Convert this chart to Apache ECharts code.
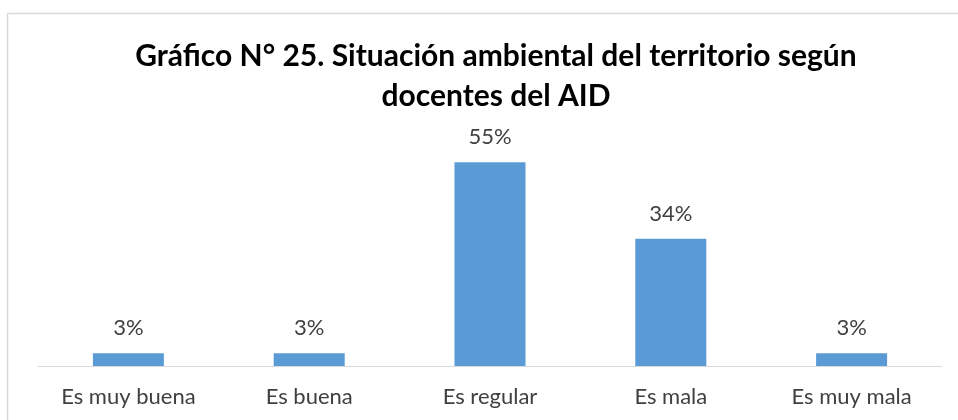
<!DOCTYPE html>
<html><head><meta charset="utf-8">
<script src="https://cdn.jsdelivr.net/npm/echarts@6/dist/echarts.min.js"></script>
<style>html,body{margin:0;padding:0;background:#fff}#c{width:958px;height:420px}</style>
</head><body><div id="c"></div>
<script>
const categories = ["Es muy buena", "Es buena", "Es regular", "Es mala", "Es muy mala"];
const values = [3.45, 3.45, 55.17, 34.48, 3.45];
const titleText = "Gráfico N° 25. Situación ambiental del territorio según\ndocentes del AID";

const chart = echarts.init(document.getElementById('c'), null, {renderer: 'canvas'});
chart.setOption({
  animation: false,
  backgroundColor: '#ffffff',
  graphic: [{
    type: 'rect', left: 5, top: 11,
    shape: {width: 1000, height: 500},
    style: {fill: 'none', stroke: '#D9D9D9', lineWidth: 1.5}
  }],
  title: {
    text: titleText,
    left: 491, textAlign: 'center', top: 31,
    textStyle: {fontFamily: 'Lato', fontWeight: 'bold', fontSize: 30, lineHeight: 40, color: '#000000'}
  },
  grid: {left: 38, right: 16, top: 144.5, bottom: 54, containLabel: false},
  xAxis: {
    type: 'category', data: categories,
    axisLine: {lineStyle: {color: '#D9D9D9', width: 1}},
    axisTick: {show: false},
    axisLabel: {color: '#404040', fontFamily: 'Lato', fontSize: 22, margin: 20, interval: 0}
  },
  yAxis: {type: 'value', min: 0, max: 60, show: false, splitLine: {show: false}},
  series: [{
    type: 'bar', data: values, barWidth: 71,
    itemStyle: {color: '#5B9BD5'},
    label: {
      show: true, position: 'top', distance: 14,
      color: '#404040', fontFamily: 'Lato', fontSize: 22,
      formatter: p => Math.round(p.value) + '%'
    }
  }]
});
</script></body></html>
